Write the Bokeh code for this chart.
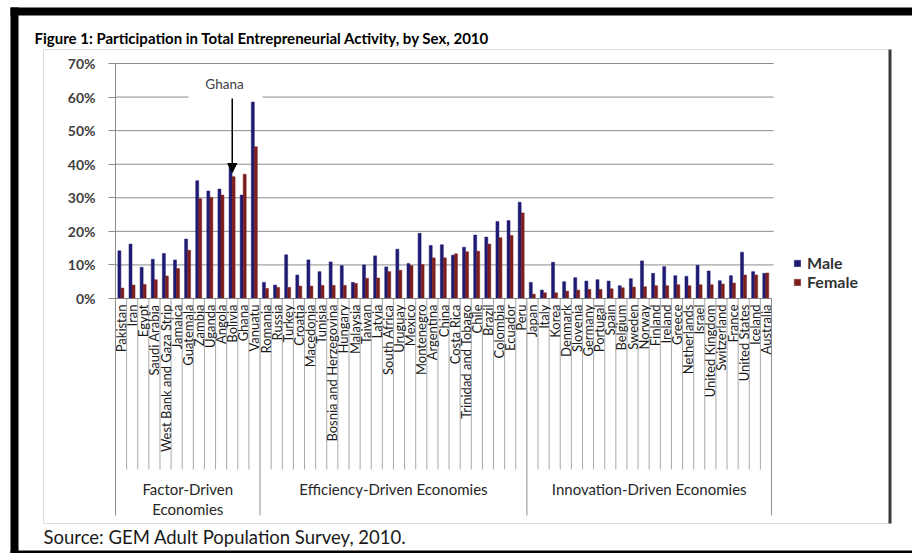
import numpy as np
from bokeh.plotting import figure
from bokeh.models import (ColumnDataSource, Range1d, FixedTicker, Label, BoxAnnotation,
                          Arrow, NormalHead, Legend, LegendItem)
from bokeh.core.properties import value
from bokeh.embed import file_html
from bokeh.resources import INLINE

# ---------------- data ----------------
factor_countries = ["Pakistan", "Iran", "Egypt", "Saudi Arabia", "West Bank and Gaza Strip",
                    "Jamaica", "Guatemala", "Zambia", "Uganda", "Angola", "Bolivia", "Ghana", "Vanuatu"]
factor_male = [14.2, 16.2, 9.3, 11.7, 13.4, 11.5, 17.7, 35.1, 32.0, 32.6, 39.6, 30.8, 58.5]
factor_female = [3.1, 4.0, 4.2, 5.6, 6.7, 8.9, 14.4, 29.7, 30.1, 30.8, 36.3, 37.0, 45.2]

efficiency_countries = ["Romania", "Russia", "Turkey", "Croatia", "Macedonia", "Tunisia",
                        "Bosnia and Herzegovina", "Hungary", "Malaysia", "Taiwan", "Latvia",
                        "South Africa", "Uruguay", "Mexico", "Montenegro", "Argentina", "China",
                        "Costa Rica", "Trinidad and Tobago", "Chile", "Brazil", "Colombia",
                        "Ecuador", "Peru"]
efficiency_male = [4.8, 4.0, 13.0, 7.0, 11.5, 8.0, 10.9, 9.8, 4.8, 10.0, 12.7, 9.4, 14.7, 10.4,
                   19.4, 15.8, 16.0, 12.9, 15.3, 18.9, 18.3, 22.9, 23.2, 28.7]
efficiency_female = [3.0, 3.3, 3.3, 3.7, 3.7, 3.9, 3.9, 3.9, 4.5, 6.0, 6.1, 8.0, 8.4, 9.8,
                     10.1, 12.1, 12.1, 13.3, 13.9, 14.1, 16.2, 18.1, 18.8, 25.5]

innovation_countries = ["Japan", "Italy", "Korea", "Denmark", "Slovenia", "Germany", "Portugal",
                        "Spain", "Belgium", "Sweden", "Norway", "Finland", "Ireland", "Greece",
                        "Netherlands", "Israel", "United Kingdom", "Switzerland", "France",
                        "United States", "Iceland", "Australia"]
innovation_male = [4.8, 2.5, 10.8, 5.0, 6.2, 5.2, 5.6, 5.2, 3.8, 5.9, 11.2, 7.5, 9.5, 6.8, 6.6,
                   9.9, 8.2, 5.3, 6.8, 13.8, 8.0, 7.5]
innovation_female = [1.3, 1.7, 1.7, 2.2, 2.5, 2.7, 2.7, 2.9, 3.2, 3.4, 3.5, 3.8, 3.8, 4.1, 3.8,
                     4.1, 4.1, 4.3, 4.6, 7.0, 7.0, 7.6]

group_names = ["Factor-Driven\nEconomies", "Efficiency-Driven Economies", "Innovation-Driven Economies"]
y_ticks = [0, 10, 20, 30, 40, 50, 60, 70]
y_tick_labels = ["0%", "10%", "20%", "30%", "40%", "50%", "60%", "70%"]

title_text = "Figure 1: Participation in Total Entrepreneurial Activity, by Sex, 2010"
source_text = "Source: GEM Adult Population Survey, 2010."
annot_text = "Ghana"
annot_country = "Bolivia"

# ---------------- assemble ----------------
groups = [factor_countries, efficiency_countries, innovation_countries]
countries = factor_countries + efficiency_countries + innovation_countries
male = factor_male + efficiency_male + innovation_male
female = factor_female + efficiency_female + innovation_female
n = len(countries)
idx = np.arange(n)

MALE_C = "#1e1b73"
FEMALE_C = "#7d1e1e"
GRID_C = "#8c8c8c"
TICK_C = "#a8a8a8"

W, H = 912, 553
# plot area placement on the canvas (pixels)
PL, PR, PT, P0 = 115.0, 771.0, 63.0, 298.0   # left, right boundary, 70% line, 0% line
PB = 515.0                                    # bottom of the category-axis table
YTOP = 70.0
ppx = (PR - PL) / n
ppy = (P0 - PT) / YTOP


def px2x(px):
    return (px - PL) / ppx


def py2y(py):
    return YTOP - (py - PT) / ppy


src = ColumnDataSource(dict(country=countries, male=male, female=female,
                            xm=idx + 0.35, xf=idx + 0.62, xl=idx + 0.5))

p = figure(width=W, height=H, output_backend="svg", toolbar_location=None,
           x_range=Range1d(px2x(0), px2x(W)), y_range=Range1d(py2y(H), py2y(0)),
           x_axis_location=None, min_border=0)
p.outline_line_color = None
p.background_fill_color = "white"
p.border_fill_color = "white"
p.xgrid.visible = False
p.ygrid.visible = False

ax = p.yaxis[0]
ax.fixed_location = 0
ax.bounds = (py2y(PB), YTOP)
ax.ticker = FixedTicker(ticks=y_ticks)
ax.major_label_overrides = {t: l for t, l in zip(y_ticks, y_tick_labels)}
ax.axis_line_color = GRID_C
ax.major_tick_line_color = GRID_C
ax.major_tick_out = 7
ax.major_tick_in = 0
ax.minor_tick_out = 0
ax.minor_tick_in = 0
ax.major_label_standoff = 13
ax.major_label_text_font = "Lato"
ax.major_label_text_font_style = "bold"
ax.major_label_text_font_size = "14px"
ax.major_label_text_color = "#404040"

# horizontal gridlines at the y ticks, across the plot area only
p.segment(x0=0, y0=y_ticks[1:], x1=n + 0.2, y1=y_ticks[1:], line_color=GRID_C, line_width=1)

# category boundary lines and group separators
bounds = np.arange(1, n)
sep = np.cumsum([len(g) for g in groups])
inner = [b for b in bounds if b not in set(sep)]
p.segment(x0=inner, y0=0, x1=inner, y1=py2y(469), line_color=TICK_C, line_width=1)
p.segment(x0=sep, y0=0, x1=sep, y1=py2y(PB), line_color="#8f8f8f", line_width=1)

# bars
r_m = p.vbar(x="xm", top="male", width=0.27, source=src, fill_color=MALE_C, line_color=MALE_C,
             line_width=0.5)
r_f = p.vbar(x="xf", top="female", width=0.27, source=src, fill_color=FEMALE_C,
             line_color=FEMALE_C, line_width=0.5)

# zero line
p.segment(x0=[0], y0=[0], x1=[n], y1=[0], line_color="#7f7f7f", line_width=1)

# category labels
p.text(x="xl", y=py2y(304), text="country", source=src, angle=np.pi / 2,
       text_align="right", text_baseline="middle", text_font=value("Lato"),
       text_font_size="13px", text_color="#1a1a1a")

# group labels
starts = np.concatenate([[0], sep[:-1]])
centers = (starts + sep) / 2.0
p.text(x=centers, y=py2y(479), text=group_names, text_align="center", text_baseline="top",
       text_font=value("Lato"), text_font_size="15px", text_color="#262626",
       text_line_height=1.15)

# legend
legend = Legend(items=[LegendItem(label="Male", renderers=[r_m]),
                       LegendItem(label="Female", renderers=[r_f])],
                location=(793, H - 291), border_line_color=None, background_fill_alpha=0,
                label_text_font="Lato", label_text_font_style="bold",
                label_text_font_size="16px", label_text_color="#333333",
                glyph_width=8, glyph_height=8, label_height=17, spacing=0,
                label_standoff=6, padding=4, margin=0)
p.add_layout(legend, "center")

# Ghana annotation
p.add_layout(BoxAnnotation(left=px2x(188), right=px2x(262), bottom=py2y(100), top=py2y(68),
                           fill_color="white", fill_alpha=1, line_color=None))
bx = countries.index(annot_country) + 0.5
p.add_layout(Arrow(end=NormalHead(size=9, fill_color="black", line_color="black"),
                   x_start=bx, y_start=py2y(98), x_end=bx, y_end=py2y(172),
                   line_color="black", line_width=1.5))
p.add_layout(Label(x=px2x(224), y=py2y(83), text=annot_text, text_align="center",
                   text_baseline="middle", text_font="Lato", text_font_size="13.5px",
                   text_color="#404040"))

# chart area border, page frame, title and source
p.add_layout(BoxAnnotation(left=px2x(43), right=px2x(889), top=py2y(49), bottom=py2y(523),
                           fill_alpha=0, line_color="#8c8c8c", line_width=1))
p.add_layout(BoxAnnotation(left=px2x(888), right=px2x(891), top=py2y(49), bottom=py2y(523),
                           fill_color="#3a3a3a", fill_alpha=1, line_color=None))
p.add_layout(BoxAnnotation(left=px2x(10), right=px2x(W + 2), top=py2y(7), bottom=py2y(15),
                           fill_color="black", fill_alpha=1, line_color=None))
p.add_layout(BoxAnnotation(left=px2x(10), right=px2x(18), top=py2y(7), bottom=py2y(H + 2),
                           fill_color="black", fill_alpha=1, line_color=None))
p.add_layout(BoxAnnotation(left=px2x(10), right=px2x(W + 2), top=py2y(550), bottom=py2y(H + 2),
                           fill_color="black", fill_alpha=1, line_color=None))
p.add_layout(Label(x=px2x(34), y=py2y(37), text=title_text, text_baseline="middle",
                   text_font="Lato", text_font_style="bold", text_font_size="15px",
                   text_color="black"))
p.add_layout(Label(x=px2x(43), y=py2y(536), text=source_text, text_baseline="middle",
                   text_font="Lato", text_font_size="18.5px", text_color="#1a1a1a"))

open("out.html", "w").write(file_html(p, INLINE, title="TEA by sex 2010"))
